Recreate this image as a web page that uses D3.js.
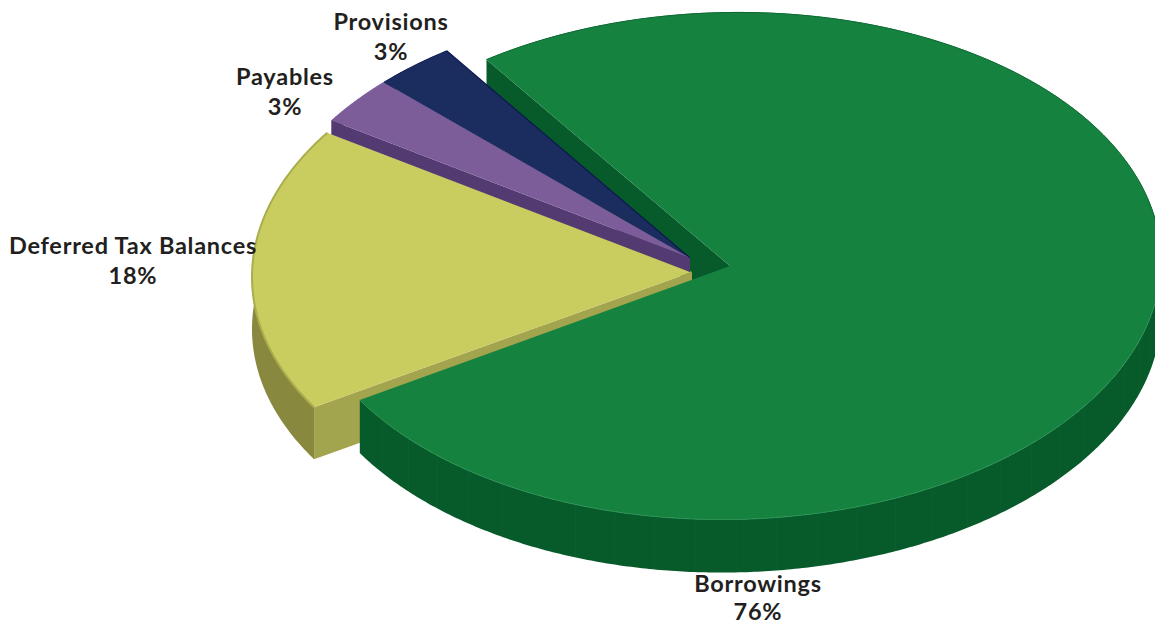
<!DOCTYPE html>
<html>
<head>
<meta charset="utf-8">
<script src="https://cdn.jsdelivr.net/npm/d3@7"></script>
<style>
html,body{margin:0;padding:0;background:#fff;overflow:hidden}
text{font-family:Lato,"Noto Sans",sans-serif;font-weight:700;fill:#231f20;text-anchor:middle;letter-spacing:.75px}
</style>
</head>
<body>
<svg id="chart" width="1155" height="625"></svg>
<script>
// Liabilities by category, in percent
const categories = ["Borrowings", "Deferred Tax Balances", "Payables", "Provisions"];
const shares = [76, 18, 3, 3];
const topColors = ["#15823f", "#c9cc5f", "#7c5c99", "#1b2c5f"];
const rimColors = ["#2a9155", "#a9ae4c", "#8a6ca6", "#0d1750"];
const radialWallColors = ["#075a29", "#a3a44e", "#533a70", "#111d4c"];
const outerWallColors = ["#075a29", "#88883e", "#533a70", "#111d4c"];

const svg = d3.select("#chart");
const rad = Math.PI / 180;
const pie = d3.pie().sort(null).value(d => d).startAngle(-34.4 * rad).endAngle(325.6 * rad);
const arcs = pie(shares);

// Tilted ellipse each wedge sits on, its apex, and the extruded thickness
const geometry = [
  {cx: 730, cy: 266, rx: 431, ry: 253.5, tilt: 5, hx: 730, hy: 266, depth: 53},
  {cx: 692, cy: 271, rx: 440, ry: 256, tilt: 6, hx: 692, hy: 272, depth: 52},
  {cx: 693, cy: 267, rx: 436, ry: 262, tilt: 0, hx: 690, hy: 258, depth: 14},
  {cx: 693, cy: 267, rx: 436, ry: 262, tilt: 0, hx: 690, hy: 258, depth: 14}
];

const rimPoint = (g, a, dz = 0) => [
  g.cx + g.rx * Math.sin(a),
  g.cy - g.ry * Math.cos(a) - g.tilt * Math.sin(a) + dz
];
const samples = (a0, a1, step = 0.5 * rad) => {
  const n = Math.max(2, Math.ceil((a1 - a0) / step));
  return d3.range(n + 1).map(i => a0 + (a1 - a0) * i / n);
};
const line = d3.line();
const closed = pts => line(pts) + "Z";
const root = svg.append("g");

function radialWall(i) {
  const g = geometry[i], o = rimPoint(g, arcs[i].startAngle);
  root.append("path")
    .attr("d", closed([o, [g.hx, g.hy], [g.hx, g.hy + g.depth], [o[0], o[1] + g.depth]]))
    .attr("fill", radialWallColors[i]);
}
function outerWall(i, a0, a1) {
  const g = geometry[i], as = samples(a0, a1);
  root.append("path")
    .attr("d", closed(as.map(a => rimPoint(g, a)).concat(as.slice().reverse().map(a => rimPoint(g, a, g.depth)))))
    .attr("fill", outerWallColors[i]);
}
function topFace(i, stroke = 0.8) {
  const g = geometry[i], as = samples(arcs[i].startAngle, arcs[i].endAngle);
  const rim = as.map(a => rimPoint(g, a));
  root.append("path").attr("d", closed([[g.hx, g.hy], ...rim])).attr("fill", topColors[i]);
  root.append("path").attr("d", line(rim)).attr("fill", "none")
    .attr("stroke", rimColors[i]).attr("stroke-width", stroke);
}

// Back to front: the shaded cut of the large wedge lies behind the small wedges
radialWall(0);

outerWall(1, arcs[1].startAngle, arcs[1].endAngle);
radialWall(1);
topFace(1, 2);

radialWall(3);
outerWall(3, arcs[3].startAngle, arcs[3].endAngle);
topFace(3);
root.append("path")
  .attr("d", line([rimPoint(geometry[3], arcs[3].endAngle), [geometry[3].hx, geometry[3].hy]]))
  .attr("stroke", rimColors[3]).attr("stroke-width", 1.2).attr("fill", "none");

radialWall(2);
outerWall(2, arcs[2].startAngle, arcs[2].endAngle);
topFace(2, 1);

// The large wedge is nearest the viewer; its side is built of narrow facets
const green = geometry[0];
const facetEnd = arcs[0].endAngle;
outerWall(0, 90 * rad, facetEnd);
d3.range(92 * rad, facetEnd, 5.45 * rad).forEach(a => {
  root.append("line")
    .attr("x1", rimPoint(green, a)[0]).attr("y1", rimPoint(green, a)[1])
    .attr("x2", rimPoint(green, a)[0]).attr("y2", rimPoint(green, a, green.depth)[1])
    .attr("stroke", "#ffffff").attr("stroke-opacity", 0.03).attr("stroke-width", 1);
});
topFace(0, 1);
root.append("path")
  .attr("d", line(samples(arcs[0].startAngle, 85 * rad).map(a => rimPoint(green, a))))
  .attr("fill", "none").attr("stroke", "#0c6630").attr("stroke-width", 1);

// Category labels with their share underneath
const percent = d => d + "%";
const labelSpots = [[758, 592], [133, 254], [285, 85], [391, 30]];
const lineGaps = [27.5, 29.5, 29.5, 29.5];
const labels = svg.append("g").selectAll("g").data(categories).join("g")
  .attr("transform", (d, i) => `translate(${labelSpots[i][0]},${labelSpots[i][1]})`);
labels.append("text").attr("font-size", 23.5).text(d => d);
labels.append("text").attr("font-size", 23.5).attr("y", (d, i) => lineGaps[i]).text((d, i) => percent(shares[i]));
</script>
</body>
</html>
